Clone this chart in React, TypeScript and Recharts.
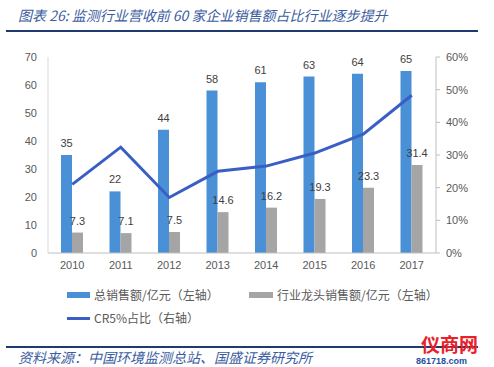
import React from 'react';
import {
  ComposedChart,
  Bar,
  Line,
  XAxis,
  YAxis,
  LabelList } from
'recharts';

const years = ['2010', '2011', '2012', '2013', '2014', '2015', '2016', '2017'];
const totalSales = [35, 22, 44, 58, 61, 63, 64, 65];
const leaderSales = [7.3, 7.1, 7.5, 14.6, 16.2, 19.3, 23.3, 31.4];
const cr5Share = [21, 32.4, 17, 25, 26.6, 30.6, 36.4, 48.3];
const leftTicks = [0, 10, 20, 30, 40, 50, 60, 70];
const rightTicks = [0, 10, 20, 30, 40, 50, 60];

const data = years.map((year, i) => ({
  year,
  total: totalSales[i],
  leader: leaderSales[i],
  cr5: cr5Share[i]
}));

const BLUE = '#4a90d6';
const GRAY = '#a5a5a5';
const LINE = '#3a5fc4';
const NAVY = '#1f3a6e';
const TEXT = '#595959';
const font = 'Liberation Sans, "Noto Sans CJK SC", sans-serif';
const cjk = '"Noto Sans CJK SC", sans-serif';

export default function App() {
  return (
    <div
      style={{
        position: 'absolute',
        left: 0,
        top: 0,
        width: 494,
        height: 367,
        background: '#fff',
        overflow: 'hidden',
        fontFamily: cjk
      }}>
      <div
        style={{
          position: 'absolute',
          left: 18,
          top: 8,
          fontSize: 14,
          lineHeight: '14px',
          fontStyle: 'italic',
          color: '#3b5ca0',
          whiteSpace: 'nowrap'
        }}>
        图表 26: 监测行业营收前 60 家企业销售额占比行业逐步提升
      </div>
      <div style={{ position: 'absolute', left: 6, top: 30, width: 472, height: 2, background: NAVY }} />

      <div style={{ position: 'absolute', left: 0, top: 0 }}>
        <ComposedChart
          width={494}
          height={280}
          data={data}
          margin={{ top: 57, right: 0, left: 0, bottom: 7 }}
          barGap={0}
          barSize={11}>
          <XAxis
            dataKey="year"
            tickLine={false}
            axisLine={{ stroke: '#bfbfbf' }}
            tick={{ fill: TEXT, fontSize: 11, fontFamily: font }}
            height={20} />
          <YAxis
            yAxisId="left"
            domain={[0, 70]}
            ticks={leftTicks}
            width={48}
            tickLine={false}
            tickMargin={5}
            axisLine={{ stroke: '#d9d9d9' }}
            tick={{ fill: TEXT, fontSize: 11, fontFamily: font }} />
          <YAxis
            yAxisId="right"
            orientation="right"
            domain={[0, 60]}
            ticks={rightTicks}
            width={58}
            tickSize={4}
            tickMargin={6}
            tickFormatter={(v) => `${v}%`}
            axisLine={{ stroke: '#bfbfbf' }}
            tickLine={{ stroke: '#bfbfbf' }}
            tick={{ fill: TEXT, fontSize: 11, fontFamily: font }} />
          <Bar yAxisId="left" dataKey="total" fill={BLUE} isAnimationActive={false}>
            <LabelList dataKey="total" position="top" offset={8} fill="#404040" fontSize={11} fontFamily={font} />
          </Bar>
          <Bar yAxisId="left" dataKey="leader" fill={GRAY} isAnimationActive={false}>
            <LabelList dataKey="leader" position="top" offset={8} fill="#404040" fontSize={11} fontFamily={font} />
          </Bar>
          <Line
            yAxisId="right"
            dataKey="cr5"
            type="linear"
            stroke={LINE}
            strokeWidth={3}
            dot={false}
            isAnimationActive={false} />
        </ComposedChart>
      </div>

      <div style={{ position: 'absolute', left: 67, top: 292, width: 23, height: 6, background: BLUE }} />
      <div style={{ position: 'absolute', left: 94, top: 288, fontSize: 12, lineHeight: '14px', color: TEXT, whiteSpace: 'nowrap' }}>
        总销售额/亿元（左轴）
      </div>
      <div style={{ position: 'absolute', left: 249, top: 292, width: 24, height: 6, background: GRAY }} />
      <div style={{ position: 'absolute', left: 277, top: 288, fontSize: 12, lineHeight: '14px', color: TEXT, whiteSpace: 'nowrap' }}>
        行业龙头销售额/亿元（左轴）
      </div>
      <div style={{ position: 'absolute', left: 67, top: 317, width: 23, height: 3, background: LINE }} />
      <div style={{ position: 'absolute', left: 94, top: 311, fontSize: 12, lineHeight: '14px', color: TEXT, whiteSpace: 'nowrap' }}>
        CR5%占比（右轴）
      </div>

      <div style={{ position: 'absolute', left: 6, top: 346, width: 472, height: 2, background: NAVY }} />
      <div
        style={{
          position: 'absolute',
          left: 18,
          top: 350,
          fontSize: 14,
          lineHeight: '14px',
          fontStyle: 'italic',
          color: '#3b5ca0',
          whiteSpace: 'nowrap'
        }}>
        资料来源：中国环境监测总站、国盛证券研究所
      </div>
      <div
        style={{
          position: 'absolute',
          left: 421,
          top: 334,
          fontSize: 19,
          lineHeight: '19px',
          fontWeight: 'bold',
          color: '#e8202a',
          whiteSpace: 'nowrap'
        }}>
        仪商网
      </div>
      <div
        style={{
          position: 'absolute',
          left: 416,
          top: 357,
          fontSize: 9,
          lineHeight: '9px',
          fontWeight: 'bold',
          color: '#1f4f9f',
          whiteSpace: 'nowrap',
          fontFamily: font
        }}>
        861718.com
      </div>
    </div>);

}
